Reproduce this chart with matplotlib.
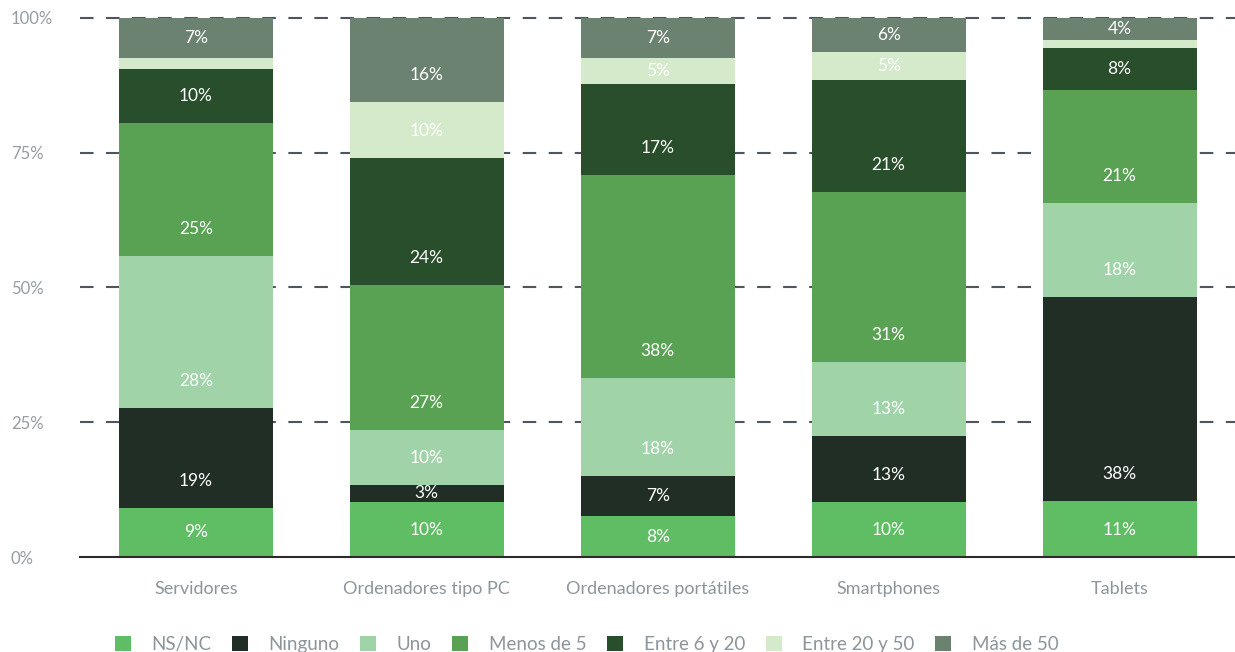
import matplotlib
matplotlib.use("Agg")
import matplotlib.pyplot as plt
import numpy as np

categories = ["Servidores", "Ordenadores tipo PC", "Ordenadores portátiles", "Smartphones", "Tablets"]
series_names = ["NS/NC", "Ninguno", "Uno", "Menos de 5", "Entre 6 y 20", "Entre 20 y 50", "Más de 50"]
ns_nc = [9.1, 10.2, 7.6, 10.2, 10.4]
ninguno = [18.5, 3.2, 7.4, 12.2, 37.8]
uno = [28.2, 10.2, 18.2, 13.8, 17.5]
menos_de_5 = [24.7, 26.9, 37.7, 31.5, 20.9]
entre_6_20 = [10.0, 23.5, 16.9, 20.8, 7.8]
entre_20_50 = [2.1, 10.4, 4.8, 5.2, 1.5]
mas_de_50 = [7.4, 15.6, 7.4, 6.3, 4.1]
labels = [
    ["9%", "10%", "8%", "10%", "11%"],
    ["19%", "3%", "7%", "13%", "38%"],
    ["28%", "10%", "18%", "13%", "18%"],
    ["25%", "27%", "38%", "31%", "21%"],
    ["10%", "24%", "17%", "21%", "8%"],
    ["", "10%", "5%", "5%", ""],
    ["7%", "16%", "7%", "6%", "4%"],
]
yticks = [0, 25, 50, 75, 100]
ytick_labels = ["0%", "25%", "50%", "75%", "100%"]

series = [ns_nc, ninguno, uno, menos_de_5, entre_6_20, entre_20_50, mas_de_50]
colors = ["#5FBD63", "#202E25", "#A0D4A8", "#59A253", "#284E2C", "#D4EACB", "#6C8271"]

plt.rcParams['font.family'] = ['Lato', 'DejaVu Sans']
fig = plt.figure(figsize=(12.35, 6.52), dpi=100)
ax = fig.add_axes([0.065, 0.1457, 0.935, 0.8267])

x = np.arange(len(categories))
bottom = np.zeros(len(categories))
for vals, col, name, labs in zip(series, colors, series_names, labels):
    vals = np.array(vals)
    ax.bar(x, vals, width=0.667, bottom=bottom, color=col, label=name, zorder=2)
    for xi, b, v, lab in zip(x, bottom, vals, labs):
        if lab:
            ax.text(xi, b + min(v / 2, 5.0), lab, ha="center", va="center", color="white",
                    fontsize=12.5, zorder=3)
    bottom += vals

ax.set_xlim(-0.5, 4.5)
ax.set_ylim(0, 100)
for yv in yticks[1:]:
    ax.axhline(yv, color="#4D565E", lw=1.5, linestyle=(0, (6.5, 6)), zorder=1, clip_on=False)
ax.axhline(0, color="#2B2B2B", lw=1.5, zorder=3, clip_on=False)

ax.set_yticks(yticks)
ax.set_yticklabels(ytick_labels)
ax.set_xticks(x)
ax.set_xticklabels(categories)
ax.tick_params(axis="y", length=0, pad=50, labelsize=12, labelcolor="#959DA4")
ax.tick_params(axis="x", length=0, pad=17, labelsize=13, labelcolor="#8C959C")
for lab in ax.get_yticklabels():
    lab.set_horizontalalignment("left")
for s in ax.spines.values():
    s.set_visible(False)

leg = fig.legend(loc="lower center", bbox_to_anchor=(0.475, -0.027), ncol=7, frameon=False,
                 fontsize=13.5, handlelength=0.85, handleheight=0.85, columnspacing=1.1,
                 handletextpad=1.1)
for t in leg.get_texts():
    t.set_color("#8C959C")

fig.savefig("out.png", dpi=100)
